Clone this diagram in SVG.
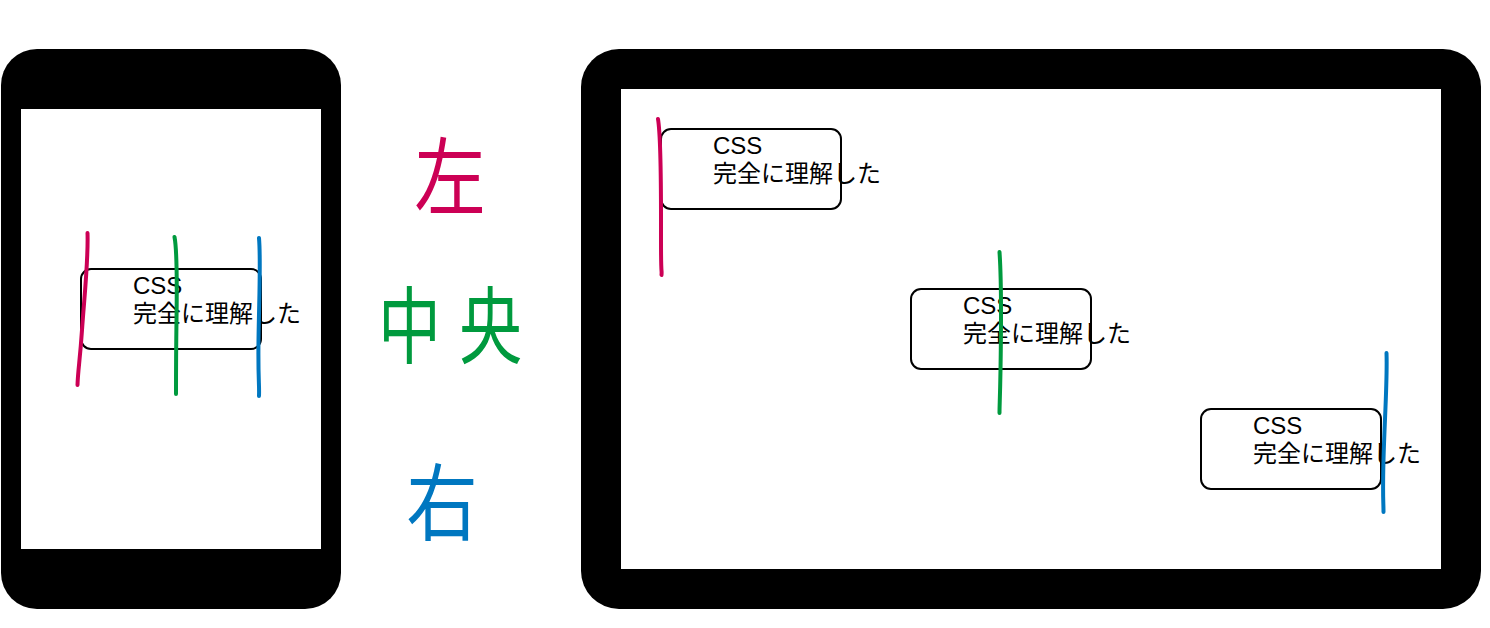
<svg xmlns="http://www.w3.org/2000/svg" width="1490" height="628" viewBox="0 0 1490 628">
<style>
.frame{fill:#000}
.screen{fill:#fff}
.box{fill:#fff;stroke:#000;stroke-width:2}
.t{font-family:"Liberation Sans","Noto Sans CJK JP",sans-serif;font-size:24px;fill:#000}
.k{font-family:"Noto Sans CJK JP",sans-serif;font-size:84px;text-anchor:middle}
.ln{fill:none;stroke-width:4;stroke-linecap:round;stroke-linejoin:round}
.red{stroke:#CC0055}
.green{stroke:#009A3E}
.blue{stroke:#0077C0}
</style>
<rect width="1490" height="628" fill="#fff"/>
<g id="phone">
<rect class="frame" x="1" y="49" width="340" height="560" rx="36" ry="36"/>
<rect class="screen" x="21" y="109" width="300" height="440"/>
</g>
<g id="tablet">
<rect class="frame" x="581" y="49" width="900" height="560" rx="38" ry="38"/>
<rect class="screen" x="621" y="89" width="820" height="480"/>
</g>
<g id="phone-box">
<rect class="box" x="81" y="269" width="180" height="80" rx="10" ry="10"/>
<text class="t" x="133" y="294">CSS</text>
<text class="t" x="133" y="322">完全に理解した</text>
</g>
<g id="tablet-box-left">
<rect class="box" x="661" y="129" width="180" height="80" rx="10" ry="10"/>
<text class="t" x="713" y="154">CSS</text>
<text class="t" x="713" y="182">完全に理解した</text>
</g>
<g id="tablet-box-center">
<rect class="box" x="911" y="289" width="180" height="80" rx="10" ry="10"/>
<text class="t" x="963" y="314">CSS</text>
<text class="t" x="963" y="342">完全に理解した</text>
</g>
<g id="tablet-box-right">
<rect class="box" x="1201" y="409" width="180" height="80" rx="10" ry="10"/>
<text class="t" x="1253" y="434">CSS</text>
<text class="t" x="1253" y="462">完全に理解した</text>
</g>
<g id="label-left">
<text class="k" fill="#CC0055" transform="translate(450,208) scale(0.85,1)">左</text>
</g>
<g id="label-center">
<text class="k" fill="#009A3E" transform="translate(450,357) scale(0.75,1)"><tspan x="-54">中</tspan><tspan x="54">央</tspan></text>
</g>
<g id="label-right">
<text class="k" fill="#0077C0" transform="translate(442,534) scale(0.85,1)">右</text>
</g>
<g id="connectors">
<path class="ln red" d="M87.5,233 C88.5,260 84,300 82,330 S78,370 77.5,385"/>
<path class="ln green" d="M174.5,237 C177.5,252 177,285 176.5,320 S176,380 176,394"/>
<path class="ln blue" d="M259,238 C261,262 259,300 258.5,340 S259.5,385 259,396"/>
<path class="ln red" d="M658,119 C661.5,140 661,200 661,240 S662,268 661.5,275"/>
<path class="ln green" d="M999.5,252 C1001.5,280 1001,340 1000.5,370 S999.5,405 999.5,413"/>
<path class="ln blue" d="M1386.5,353 C1387.5,380 1384.5,420 1383.5,460 S1383.5,500 1383.5,512"/>
</g>
</svg>
